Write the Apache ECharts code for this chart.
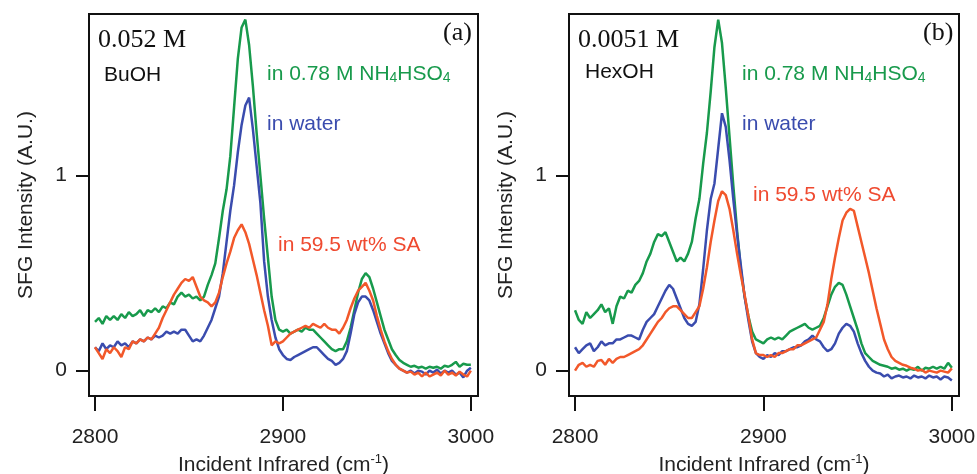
<!DOCTYPE html>
<html><head><meta charset="utf-8">
<script src="https://cdn.jsdelivr.net/npm/echarts@6/dist/echarts.min.js"></script>
<style>html,body{margin:0;padding:0;background:#fff}#c{width:977px;height:474px}</style>
</head><body><div id="c"></div>
<script>
// Incident infrared wavenumbers (cm-1), shared by both panels
const wavenumbers = [
2800,2802,2804,2806,2808,2810,2812,2814,2816,2818,
2820,2822,2824,2826,2828,2830,2832,2834,2836,2838,
2840,2842,2844,2846,2848,2850,2852,2854,2856,2858,
2860,2862,2864,2866,2868,2870,2872,2874,2876,2878,
2880,2882,2884,2886,2888,2890,2892,2894,2896,2898,
2900,2902,2904,2906,2908,2910,2912,2914,2916,2918,
2920,2922,2924,2926,2928,2930,2932,2934,2936,2938,
2940,2942,2944,2946,2948,2950,2952,2954,2956,2958,
2960,2962,2964,2966,2968,2970,2972,2974,2976,2978,
2980,2982,2984,2986,2988,2990,2992,2994,2996,2998,
3000];

// Panel (a) 0.052 M BuOH
const aNH4HSO4 = [
0.25,0.27,0.24,0.28,0.26,0.28,0.26,0.29,0.27,0.30,
0.28,0.29,0.31,0.28,0.31,0.30,0.32,0.30,0.33,0.32,
0.35,0.34,0.38,0.40,0.38,0.39,0.37,0.38,0.36,0.38,
0.44,0.49,0.55,0.68,0.82,0.93,1.10,1.35,1.60,1.76,
1.80,1.67,1.46,1.22,1.00,0.78,0.58,0.38,0.26,0.21,
0.20,0.21,0.19,0.20,0.21,0.20,0.22,0.21,0.21,0.19,
0.17,0.15,0.13,0.11,0.10,0.11,0.11,0.15,0.22,0.31,
0.40,0.47,0.50,0.48,0.42,0.35,0.28,0.21,0.16,0.11,
0.08,0.055,0.04,0.03,0.02,0.025,0.015,0.02,0.01,0.02,
0.015,0.02,0.01,0.025,0.02,0.03,0.045,0.02,0.035,0.03,
0.03];
const aWater = [
0.12,0.10,0.14,0.11,0.13,0.12,0.15,0.13,0.14,0.12,
0.15,0.14,0.16,0.15,0.17,0.16,0.18,0.17,0.18,0.20,
0.19,0.20,0.19,0.21,0.21,0.18,0.15,0.16,0.15,0.18,
0.22,0.26,0.32,0.38,0.50,0.66,0.82,0.95,1.12,1.26,
1.36,1.40,1.24,1.05,0.86,0.56,0.38,0.26,0.17,0.11,
0.08,0.06,0.055,0.07,0.08,0.09,0.10,0.11,0.12,0.12,
0.10,0.08,0.06,0.05,0.03,0.04,0.06,0.10,0.19,0.29,
0.35,0.38,0.38,0.36,0.31,0.25,0.19,0.14,0.09,0.05,
0.03,0.01,0.0,-0.01,0.0,-0.015,0.0,-0.005,-0.02,0.0,
-0.01,0.005,-0.015,0.0,-0.01,0.0,-0.02,-0.01,-0.035,0.0,
0.015];
const aSA = [
0.12,0.09,0.06,0.11,0.09,0.12,0.10,0.07,0.12,0.11,
0.15,0.14,0.16,0.15,0.17,0.16,0.19,0.22,0.27,0.31,
0.35,0.39,0.42,0.45,0.47,0.46,0.48,0.43,0.38,0.36,
0.35,0.33,0.35,0.40,0.48,0.55,0.61,0.68,0.72,0.75,
0.71,0.65,0.57,0.49,0.40,0.31,0.23,0.13,0.15,0.14,
0.15,0.17,0.19,0.20,0.21,0.22,0.23,0.22,0.24,0.23,
0.22,0.24,0.22,0.21,0.21,0.19,0.22,0.26,0.32,0.37,
0.41,0.43,0.45,0.41,0.36,0.28,0.21,0.15,0.10,0.06,
0.03,0.01,0.0,-0.01,-0.005,-0.02,-0.01,-0.03,-0.01,-0.03,
-0.02,-0.01,-0.025,0.0,-0.02,-0.01,-0.025,-0.005,-0.02,-0.03,
0.0];

// Panel (b) 0.0051 M HexOH
const bNH4HSO4 = [
0.31,0.26,0.24,0.30,0.27,0.29,0.31,0.34,0.30,0.32,
0.24,0.33,0.38,0.37,0.41,0.40,0.44,0.46,0.50,0.56,
0.60,0.66,0.70,0.69,0.71,0.66,0.61,0.56,0.58,0.56,
0.60,0.66,0.78,0.88,1.06,1.22,1.43,1.66,1.80,1.68,
1.45,1.20,0.95,0.72,0.52,0.38,0.28,0.20,0.16,0.15,
0.14,0.16,0.17,0.16,0.17,0.16,0.18,0.20,0.21,0.22,
0.23,0.24,0.22,0.21,0.22,0.23,0.27,0.33,0.39,0.43,
0.45,0.44,0.39,0.33,0.27,0.21,0.14,0.09,0.07,0.05,
0.04,0.03,0.025,0.02,0.01,0.015,0.005,0.01,0.0,0.01,
0.005,0.02,0.0,0.015,0.01,0.02,0.01,0.02,0.01,0.04,
0.015];
const bWater = [
0.12,0.09,0.11,0.13,0.14,0.10,0.12,0.15,0.13,0.14,
0.14,0.16,0.16,0.17,0.18,0.18,0.17,0.16,0.21,0.25,
0.27,0.29,0.33,0.37,0.41,0.44,0.42,0.37,0.32,0.27,
0.24,0.23,0.25,0.34,0.52,0.72,0.88,0.96,1.14,1.32,
1.25,1.08,0.88,0.70,0.54,0.38,0.26,0.15,0.09,0.07,
0.06,0.08,0.07,0.09,0.08,0.10,0.10,0.11,0.12,0.12,
0.13,0.15,0.16,0.18,0.16,0.15,0.12,0.10,0.11,0.14,
0.19,0.22,0.24,0.23,0.20,0.14,0.09,0.05,0.02,0.0,
-0.01,-0.015,-0.03,-0.02,-0.04,-0.03,-0.025,-0.035,-0.03,-0.04,
-0.025,-0.035,-0.03,-0.04,-0.025,-0.035,-0.03,-0.045,-0.03,-0.035,
-0.05];
const bSA = [
0.00,0.03,0.04,0.02,0.03,0.02,0.05,0.055,0.03,0.06,
0.04,0.06,0.07,0.07,0.08,0.09,0.10,0.11,0.13,0.16,
0.19,0.22,0.25,0.27,0.30,0.32,0.33,0.33,0.31,0.29,
0.27,0.27,0.30,0.33,0.42,0.53,0.66,0.77,0.87,0.92,
0.90,0.83,0.72,0.60,0.49,0.39,0.28,0.16,0.09,0.08,
0.08,0.07,0.08,0.07,0.09,0.09,0.10,0.11,0.11,0.13,
0.13,0.14,0.15,0.16,0.17,0.21,0.25,0.34,0.47,0.58,
0.68,0.77,0.81,0.83,0.82,0.74,0.66,0.58,0.50,0.41,
0.32,0.24,0.16,0.11,0.07,0.05,0.04,0.03,0.025,0.015,
0.01,0.0,0.005,-0.01,0.0,-0.005,-0.01,0.0,-0.005,-0.01,
0.012];

const xTicks = [2800, 2900, 3000];
const yTicks = [0, 1];
const xAxisTitle = 'Incident Infrared (cm{sup|-1})';
const yAxisTitle = 'SFG Intensity (A.U.)';

const GREEN = '#189a4c', BLUE = '#3a4cae', RED = '#f2582a', RED_TEXT = '#ef4a30';
const SANS = '"Liberation Sans", Arial, Helvetica, sans-serif';
const SERIF = '"Liberation Serif", "Times New Roman", serif';

function zip(xs, ys) { return xs.map((x, i) => [x, ys[i]]); }

const grids = [
  { left: 89, top: 14, width: 389, height: 382 },
  { left: 569, top: 14, width: 390, height: 382 }
];

function xAxisFor(i) {
  return {
    gridIndex: i, type: 'value', min: 2796.8, max: 3003.8,
    axisLine: { show: false, onZero: false },
    splitLine: { show: false },
    axisTick: { show: true, customValues: xTicks, length: 15, lineStyle: { color: '#111', width: 2 } },
    axisLabel: { customValues: xTicks, margin: 31, fontSize: 21, color: '#222', fontFamily: SANS,
      formatter: (v) => String(Math.round(v)) },
    name: xAxisTitle, nameLocation: 'middle', nameGap: 52,
    nameTextStyle: { fontSize: 21, color: '#222', fontFamily: SANS, lineHeight: 24,
      rich: { sup: { fontSize: 13, lineHeight: 13, verticalAlign: 'top', color: '#222', fontFamily: SANS } } }
  };
}
function yAxisFor(i) {
  return {
    gridIndex: i, type: 'value', min: -0.13, max: 1.829,
    axisLine: { show: false, onZero: false },
    splitLine: { show: false },
    axisTick: { show: true, customValues: yTicks, length: 13, lineStyle: { color: '#111', width: 2 } },
    axisLabel: { customValues: yTicks, margin: 22, fontSize: 21, color: '#222', fontFamily: SANS,
      formatter: (v) => String(Math.round(v)) },
    name: yAxisTitle, nameLocation: 'middle', nameGap: 52,
    nameTextStyle: { fontSize: 21, color: '#222', fontFamily: SANS }
  };
}
function lineSeries(i, ys, color) {
  return {
    type: 'line', xAxisIndex: i, yAxisIndex: i, data: zip(wavenumbers, ys),
    showSymbol: false, symbol: 'none', smooth: false,
    lineStyle: { color: color, width: 2.5 }, itemStyle: { color: color },
    silent: true, z: 3
  };
}
function txt(x, y, text, color, fontSize, family, rich) {
  const style = { text: text, x: 0, y: 0, fill: color, fontSize: fontSize, fontFamily: family, verticalAlign: 'middle', align: 'left' };
  if (rich) style.rich = rich;
  return { type: 'text', x: x, y: y, style: style, z: 10 };
}
const subRich = (color) => ({
  n: { fontSize: 21, lineHeight: 22, fill: color, fontFamily: SANS },
  s: { fontSize: 14, lineHeight: 14, verticalAlign: 'bottom', fill: color, fontFamily: SANS }
});

const chart = echarts.init(document.getElementById('c'), null, { renderer: 'canvas' });
chart.setOption({
  animation: false,
  backgroundColor: '#fff',
  grid: grids.map(g => Object.assign({ show: true, borderColor: '#111', borderWidth: 2, backgroundColor: 'transparent',
    containLabel: false, outerBoundsMode: 'none' }, g)),
  xAxis: [xAxisFor(0), xAxisFor(1)],
  yAxis: [yAxisFor(0), yAxisFor(1)],
  series: [
    lineSeries(0, aNH4HSO4, GREEN), lineSeries(0, aWater, BLUE), lineSeries(0, aSA, RED),
    lineSeries(1, bNH4HSO4, GREEN), lineSeries(1, bWater, BLUE), lineSeries(1, bSA, RED)
  ],
  graphic: [
    txt(98, 40, '0.052 M', '#111', 26, SERIF),
    txt(104, 75, 'BuOH', '#111', 21, SANS),
    txt(443, 33, '(a)', '#111', 26, SERIF),
    txt(267, 74, '{n|in 0.78 M NH}{s|4}{n|HSO}{s|4}', GREEN, 21, SANS, subRich(GREEN)),
    txt(267, 124, 'in water', BLUE, 21, SANS),
    txt(278, 245, 'in 59.5 wt% SA', RED_TEXT, 21, SANS),
    txt(578, 40, '0.0051 M', '#111', 26, SERIF),
    txt(585, 72, 'HexOH', '#111', 21, SANS),
    txt(923, 33, '(b)', '#111', 26, SERIF),
    txt(742, 74, '{n|in 0.78 M NH}{s|4}{n|HSO}{s|4}', GREEN, 21, SANS, subRich(GREEN)),
    txt(742, 124, 'in water', BLUE, 21, SANS),
    txt(753, 195, 'in 59.5 wt% SA', RED_TEXT, 21, SANS)
  ]
});
</script></body></html>
